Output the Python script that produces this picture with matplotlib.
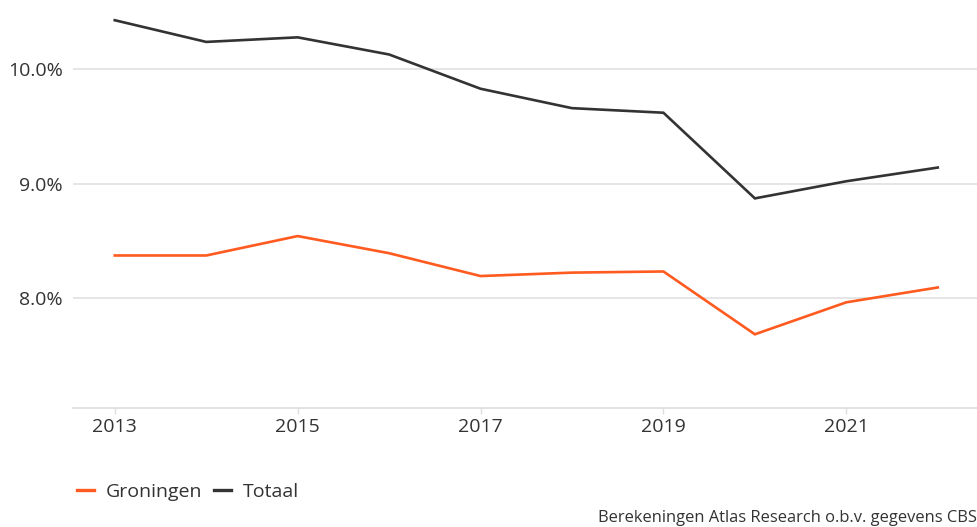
import numpy as np
import matplotlib.pyplot as plt
from matplotlib.ticker import FuncFormatter

# data
jaren = [2013, 2014, 2015, 2016, 2017, 2018, 2019, 2020, 2021, 2022]
groningen = [8.37, 8.37, 8.54, 8.39, 8.19, 8.22, 8.23, 7.68, 7.96, 8.09]
totaal = [10.43, 10.24, 10.28, 10.13, 9.83, 9.66, 9.62, 8.87, 9.02, 9.14]

oranje = '#ff5a1f'
zwart = '#333333'
tekst = '#333333'

plt.rcParams['font.family'] = ['Open Sans', 'DejaVu Sans']

fig = plt.figure(figsize=(9.78, 5.27), dpi=100)
# axes in pixels: left 72.7, right 978, bottom 408.3, top 0
ax = fig.add_axes([72.7 / 978, 1 - 408.3 / 527, (978 - 72.7) / 978, 408.3 / 527])

ax.plot(jaren, groningen, color=oranje, lw=1.9, label='Groningen', solid_joinstyle='miter')
ax.plot(jaren, totaal, color=zwart, lw=1.9, label='Totaal', solid_joinstyle='miter')

ax.set_xlim(2012.54, 2022.44)
ax.set_ylim(7.032, 10.607)
ax.set_xticks([2013, 2015, 2017, 2019, 2021])
ax.set_yticks([8, 9, 10])
ax.yaxis.set_major_formatter(FuncFormatter(lambda v, p: f'{v:.1f}%'))

ax.grid(axis='y', color='#e0e0e0', lw=1.2)
ax.set_axisbelow(True)
for s in ['top', 'right', 'left']:
    ax.spines[s].set_visible(False)
ax.spines['bottom'].set_color('#dddddd')
ax.spines['bottom'].set_linewidth(1.2)

ax.tick_params(axis='x', colors='#dddddd', length=4, width=1, labelcolor=tekst,
               labelsize=14, pad=3)
ax.tick_params(axis='y', length=0, labelcolor=tekst, labelsize=14, pad=7)

leg = fig.legend(loc='center left', bbox_to_anchor=(63 / 978, 1 - 492 / 527), ncol=2,
                 frameon=False, fontsize=14, handlelength=0.9, handletextpad=0.6,
                 columnspacing=0.6, labelcolor=tekst, borderpad=0.2)
for h in leg.get_lines():
    h.set_linewidth(2.4)

fig.text(0.999, 1 - 518 / 527, 'Berekeningen Atlas Research o.b.v. gegevens CBS',
         ha='right', va='center', fontsize=11.9, color=tekst)

fig.savefig('out.png', dpi=100)
